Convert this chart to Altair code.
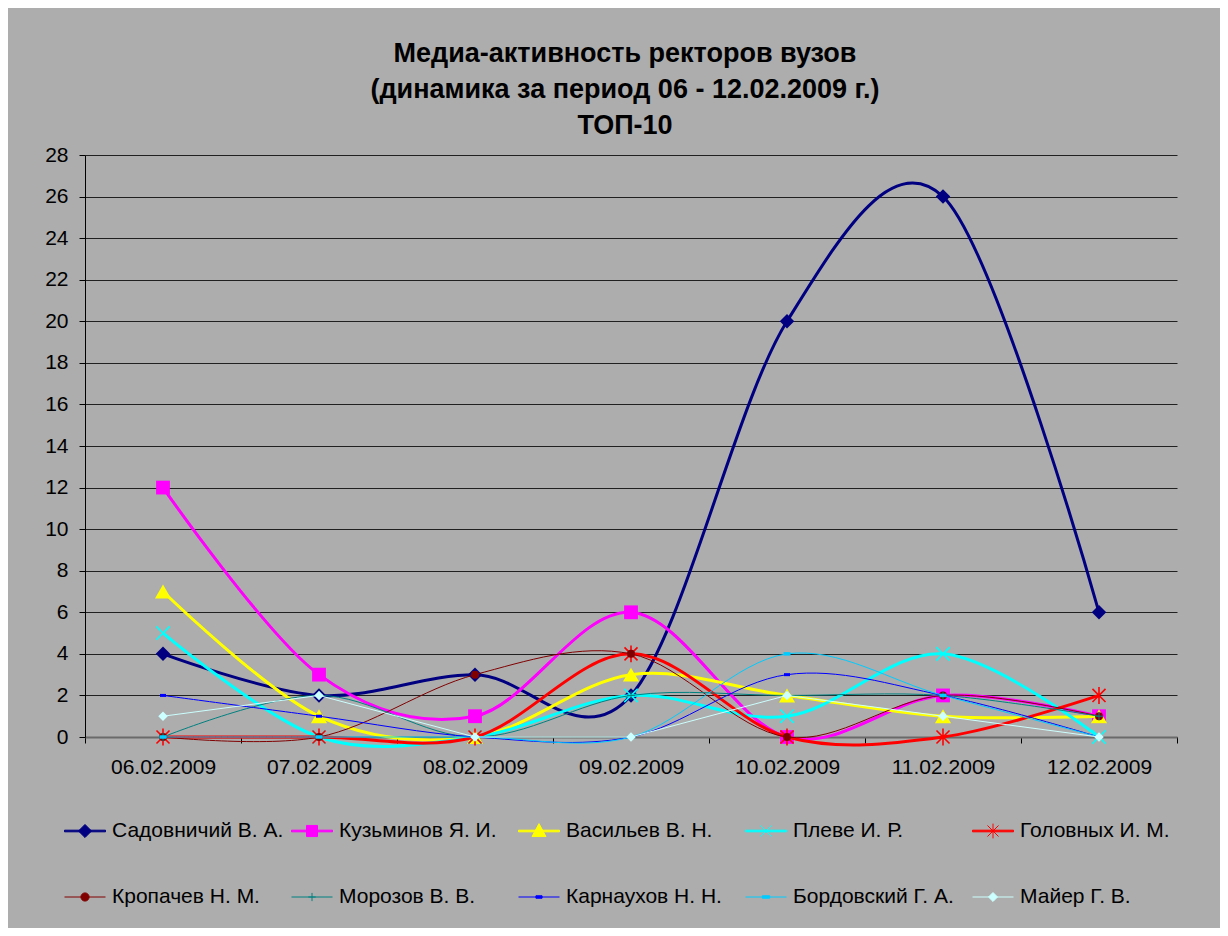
import altair as alt
import pandas as pd

dates = ["06.02.2009", "07.02.2009", "08.02.2009", "09.02.2009",
         "10.02.2009", "11.02.2009", "12.02.2009"]
names = ["Садовничий В. А.", "Кузьминов Я. И.", "Васильев В. Н.", "Плеве И. Р.",
         "Головных И. М.", "Кропачев Н. М.", "Морозов В. В.", "Карнаухов Н. Н.",
         "Бордовский Г. А.", "Майер Г. В."]

sadovnichy = [4, 2, 3, 2, 20, 26, 6]
kuzminov = [12, 3, 1, 6, 0, 2, 1]
vasiliev = [7, 1, 0, 3, 2, 1, 1]
pleve = [5, 0, 0, 2, 1, 4, 0]
golovnykh = [0, 0, 0, 4, 0, 0, 2]
kropachev = [0, 0, 3, 4, 0, 2, 1]
morozov = [0, 2, 0, 2, 2, 2, 1]
karnaukhov = [2, 1, 0, 0, 3, 2, 0]
bordovsky = [0, 0, 0, 0, 4, 2, 0]
maier = [1, 2, 0, 0, 2, 1, 0]

series_values = [sadovnichy, kuzminov, vasiliev, pleve, golovnykh,
                 kropachev, morozov, karnaukhov, bordovsky, maier]
y_ticks = list(range(0, 29, 2))

colors = ["#000080", "#FF00FF", "#FFFF00", "#00FFFF", "#FF0000",
          "#800000", "#008080", "#0000FF", "#00CCFF", "#CCFFFF"]
line_widths = [3, 3, 3, 3, 3, 1, 1, 1, 1, 1]
smooth = [True] * 9 + [False]

# plot markers: (shape, filled, size, strokeWidth)
X_PATH = "M-1,-1L1,1M-1,1L1,-1"
AST_PATH = "M-1,-1L1,1M-1,1L1,-1M0,-1.3L0,1.3"
PLUS_PATH = "M-1,0L1,0M0,-1L0,1"
DASH_PATH = "M-1,-0.5L1,-0.5L1,0.5L-1,0.5Z"
markers = [
    ("diamond", True, 210, 1),
    ("square", True, 190, 1),
    ("triangle-up", True, 260, 1),
    (X_PATH, False, 180, 1.6),
    (AST_PATH, False, 170, 1.6),
    ("circle", True, 64, 1),
    (PLUS_PATH, False, 64, 1),
    (DASH_PATH, True, 36, 1),
    (DASH_PATH, True, 49, 1),
    ("diamond", True, 90, 1),
]

# legend symbols (line + marker) in unit coordinates
THICK = "M-1,-0.04L1,-0.04L1,0.04L-1,0.04Z"
THIN = "M-1,0L1,0"
legend_shapes = [
    THICK + "M0,-0.32L0.32,0L0,0.32L-0.32,0Z",
    THICK + "M-0.27,-0.27L0.27,-0.27L0.27,0.27L-0.27,0.27Z",
    THICK + "M0,-0.36L0.34,0.27L-0.34,0.27Z",
    THICK + "M-0.27,-0.27L0.27,0.27M-0.27,0.27L0.27,-0.27",
    THICK + "M-0.27,-0.27L0.27,0.27M-0.27,0.27L0.27,-0.27M0,-0.36L0,0.36",
    THIN + "M0.2,0A0.2,0.2 0 1,1 -0.2,0A0.2,0.2 0 1,1 0.2,0Z",
    THIN + "M-0.18,0L0.18,0M0,-0.2L0,0.2",
    THIN + "M-0.15,-0.06L0.15,-0.06L0.15,0.06L-0.15,0.06Z",
    THIN + "M-0.18,-0.06L0.18,-0.06L0.18,0.06L-0.18,0.06Z",
    THIN + "M0,-0.22L0.22,0L0,0.22L-0.22,0Z",
]

rows = []
for name, vals in zip(names, series_values):
    for d, v in zip(dates, vals):
        rows.append({"date": d, "series": name, "value": v})
df = pd.DataFrame(rows)

FONT = "Liberation Sans"

x_enc = alt.X("date:N", sort=dates,
              scale=alt.Scale(type="band", domain=dates, paddingInner=0, paddingOuter=0),
              axis=alt.Axis(title=None, labelAngle=0, labelFont=FONT, labelFontSize=21,
                            labelColor="black", labelPadding=13, tickBand="extent",
                            tickSize=6, tickColor="black", domainColor="#6a6a6a",
                            domainWidth=2, grid=False))
y_enc = alt.Y("value:Q",
              scale=alt.Scale(domain=[0, 28], nice=False, zero=True),
              axis=alt.Axis(title=None, values=y_ticks, labelFont=FONT, labelFontSize=21,
                            labelColor="black", labelPadding=11, tickSize=6,
                            tickColor="black", domainColor="black", grid=True,
                            gridColor="#202020", gridWidth=1))

base = alt.Chart(df)
layers = []
for i, name in enumerate(names):
    sub = base.transform_filter(alt.datum.series == name)
    line_kw = dict(color=colors[i], strokeWidth=line_widths[i], opacity=1)
    if smooth[i]:
        line_kw.update(interpolate="cardinal", tension=0)
    layers.append(sub.mark_line(**line_kw).encode(x=x_enc, y=y_enc))
    shape, filled, size, sw = markers[i]
    layers.append(sub.mark_point(shape=shape, filled=filled, size=size, color=colors[i],
                                 strokeWidth=sw, opacity=1).encode(x=x_enc, y=y_enc))

# legend-only layer (no data drawn)
legend_layer = base.transform_filter("datum.value < -1000").mark_point(
    filled=True, opacity=1, strokeWidth=1).encode(
    x=x_enc, y=y_enc,
    shape=alt.Shape("series:N", scale=alt.Scale(domain=names, range=legend_shapes),
                    legend=alt.Legend(title=None)),
    fill=alt.Fill("series:N", scale=alt.Scale(domain=names, range=colors),
                  legend=alt.Legend(title=None)),
    stroke=alt.Stroke("series:N", scale=alt.Scale(domain=names, range=colors),
                      legend=alt.Legend(title=None)),
)
layers.append(legend_layer)

chart = alt.layer(*layers).properties(
    width=1092, height=582,
    title=alt.TitleParams(
        text=["Медиа-активность ректоров вузов",
              "(динамика за период 06 - 12.02.2009 г.)", "ТОП-10"],
        anchor="middle", font=FONT, fontSize=27, fontWeight="bold", color="black",
        lineHeight=36, offset=4, dx=-6),
    padding={"left": 77, "top": 147, "right": 43, "bottom": 191},
    autosize=alt.AutoSizeParams(type="none"),
    background="#ADADAD",
).configure_view(stroke=None, fill=None).configure_legend(
    orient="none", legendX=-21, legendY=655, direction="horizontal", columns=5,
    columnPadding=5, rowPadding=35, gridAlign="all", labelFont=FONT,
    labelFontSize=21, labelColor="black", labelLimit=400, labelOffset=6,
    symbolSize=1681, symbolStrokeWidth=1, padding=0,
)

chart.save("out.html", embed_options={"renderer": "svg", "actions": False})
